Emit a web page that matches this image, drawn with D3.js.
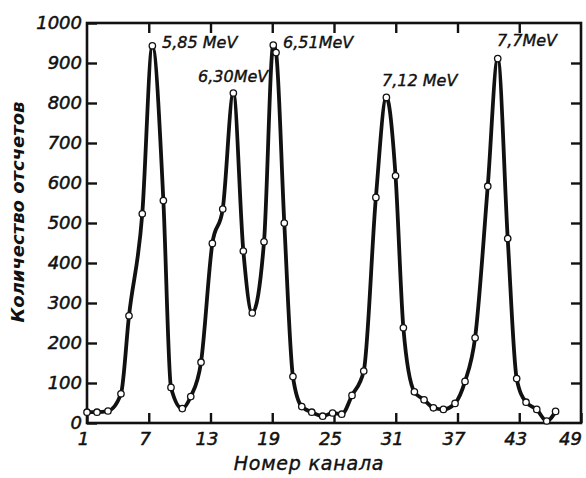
<!DOCTYPE html>
<html>
<head>
<meta charset="utf-8">
<script src="https://cdn.jsdelivr.net/npm/d3@7"></script>
<style>
  body { margin: 0; background: #fff; }
  svg { display: block; }
  text { font-family: "DejaVu Sans", sans-serif; font-style: italic; fill: #111; }
</style>
</head>
<body>
<svg id="chart"></svg>
<script>
var channels = [1.0, 1.97, 3.04, 4.3, 5.08, 6.37, 7.35, 8.42, 9.16, 10.26, 11.08, 12.08,
  13.18, 14.19, 15.22, 16.19, 17.06, 18.2, 19.1, 19.37, 20.17, 21.01, 21.87, 22.84,
  23.9, 24.86, 25.75, 26.75, 27.89, 29.07, 30.09, 30.98, 31.74, 32.81, 33.75, 34.66,
  35.63, 36.76, 37.73, 38.71, 39.94, 40.91, 41.88, 42.75, 43.66, 44.7, 45.67, 46.53];
// counts per channel
var counts = [27, 27, 30, 73, 268, 523, 943, 556, 89, 36, 66, 152,
  449, 535, 825, 430, 275, 453, 945, 926, 500, 116, 41, 27,
  17, 25, 22, 69, 130, 564, 814, 618, 238, 78, 58, 38,
  34, 49, 104, 213, 592, 911, 461, 111, 52, 34, 5, 29];

var xTicks = [1, 7, 13, 19, 25, 31, 37, 43, 49];
var yTicks = [0, 100, 200, 300, 400, 500, 600, 700, 800, 900, 1000];

// peak annotations, anchored in data units (start of text)
var peakLabels = ["5,85 MeV", "6,30MeV", "6,51MeV", "7,12 MeV", "7,7MeV"];
var labelChannel = [8.29, 11.79, 20.05, 29.67, 40.84];
var labelCount = [948, 865, 950, 854, 954];

var xTitle = "Номер канала";
var yTitle = "Количество отсчетов";

const width = 586;
const height = 478;
var svg = d3.select("#chart").attr("width", width).attr("height", height);

var margin = {left: 87, right: 581, top: 23, bottom: 423};
var x = d3.scaleLinear().domain([1, 49]).range([margin.left, margin.right]);
var y = d3.scaleLinear().domain([0, 1000]).range([margin.bottom, margin.top]);

// frame
svg.append("rect").attr("x", margin.left).attr("y", margin.top)
  .attr("width", margin.right - margin.left).attr("height", margin.bottom - margin.top)
  .attr("fill", "none").attr("stroke", "#111").attr("stroke-width", 2.6);

var styleAxis = (g) => {
  g.select(".domain").remove();
  g.selectAll("line").attr("stroke", "#111").attr("stroke-width", 2.4);
  g.selectAll("text").attr("font-size", "18px").attr("fill", "#111").attr("stroke", "#111").attr("stroke-width", 0.5);
};

svg.append("g").attr("transform", `translate(${margin.left},0)`)
  .call(d3.axisLeft(y).tickValues(yTicks).tickSize(-10).tickPadding(5).tickFormat(d3.format("d")))
  .call(styleAxis);
var xAxis = svg.append("g").attr("transform", `translate(0,${margin.bottom})`)
  .call(d3.axisBottom(x).tickValues(xTicks).tickSize(-10).tickPadding(9).tickFormat(d3.format("d")))
  .call(styleAxis);
// hand-lettered labels sit a little left of their ticks
xAxis.selectAll("text").attr("dx", d => d === 49 ? -11 : -4);
svg.append("g").attr("transform", `translate(${margin.right},0)`)
  .call(d3.axisRight(y).tickValues(yTicks.slice(1, -1)).tickSize(-10).tickFormat(""))
  .call(styleAxis);
svg.append("g").attr("transform", `translate(0,${margin.top})`)
  .call(d3.axisTop(x).tickValues(xTicks.slice(1, -1)).tickSize(-10).tickFormat(""))
  .call(styleAxis);

// curve
var pts = channels.map((c, i) => [c, counts[i]]);
var line = d3.line().x(d => x(d[0])).y(d => y(d[1])).curve(d3.curveMonotoneX);
svg.append("path").datum(pts).attr("d", line).attr("fill", "none")
  .attr("stroke", "#111").attr("stroke-width", 3.8).attr("stroke-linejoin", "round");

// measured points
svg.selectAll(".pt").data(pts).join("circle").attr("class", "pt")
  .attr("cx", d => x(d[0])).attr("cy", d => y(d[1])).attr("r", 3.2)
  .attr("fill", "#fff").attr("stroke", "#111").attr("stroke-width", 1.3);

// peak labels
svg.selectAll(".peak").data(peakLabels).join("text").attr("class", "peak")
  .attr("x", (d, i) => x(labelChannel[i])).attr("y", (d, i) => y(labelCount[i]))
  .attr("dominant-baseline", "middle").attr("font-size", "16px")
  .attr("stroke", "#111").attr("stroke-width", 0.4).text(d => d);

// axis titles
svg.append("text").attr("x", 309).attr("y", 470).attr("text-anchor", "middle")
  .attr("font-size", "19px").attr("letter-spacing", "0.8px")
  .attr("stroke", "#111").attr("stroke-width", 0.4).text(xTitle);
svg.append("text").attr("transform", "translate(24,212) rotate(-90)").attr("text-anchor", "middle")
  .attr("font-size", "18px").attr("font-weight", "bold").text(yTitle);
</script>
</body>
</html>
